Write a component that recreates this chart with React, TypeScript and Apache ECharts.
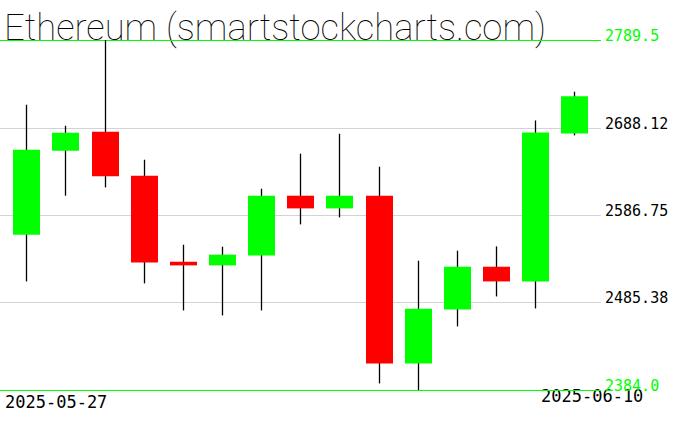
import React, { useEffect, useRef } from "react";
import * as echarts from "echarts";

const dates = [
  "2025-05-27", "2025-05-28", "2025-05-29", "2025-05-30", "2025-05-31",
  "2025-06-01", "2025-06-02", "2025-06-03", "2025-06-04", "2025-06-05",
  "2025-06-06", "2025-06-07", "2025-06-08", "2025-06-09", "2025-06-10",
];
const opens = [2563.9, 2661.2, 2683.3, 2632.3, 2532.6, 2528.4, 2539.9, 2609.1, 2594.4, 2609.1, 2414.8, 2477.4, 2526.8, 2509.8, 2681.3];
const highs = [2714.5, 2690.2, 2789.5, 2650.8, 2552.3, 2550.0, 2617.2, 2657.8, 2680.9, 2642.7, 2533.8, 2545.4, 2550.4, 2696.3, 2729.6];
const lows = [2509.8, 2609.1, 2618.7, 2507.5, 2476.2, 2470.4, 2476.2, 2575.9, 2584.0, 2391.6, 2384.0, 2457.7, 2492.4, 2478.5, 2679.0];
const closes = [2662.4, 2682.1, 2631.5, 2531.8, 2528.4, 2540.8, 2609.1, 2594.4, 2609.1, 2414.8, 2478.2, 2526.8, 2509.8, 2682.4, 2724.2];

const gridValues = [2384.0, 2485.38, 2586.75, 2688.12, 2789.5];
const gridLabels = ["2384.0", "2485.38", "2586.75", "2688.12", "2789.5"];

const TITLE = "Ethereum (smartstockcharts.com)";
const GREEN = "#00ff00";
const RED = "#ff0000";
const GRAY = "#d3d3d3";

export default function App() {
  const ref = useRef<HTMLDivElement>(null);
  useEffect(() => {
    document.body.style.margin = "0";
    if (!ref.current) return;
    const chart = echarts.init(ref.current, null, { renderer: "svg" });
    const candleData = dates.map((_, i) => [i, opens[i], closes[i], lows[i], highs[i]]);
    const gridData = gridValues.map((v, i) => [v, i]);
    const yMin = gridValues[0];
    const yMax = gridValues[gridValues.length - 1];
    chart.setOption({
      animation: false,
      grid: { left: 0, top: 40, width: 601, height: 350 },
      xAxis: { type: "value", min: -0.672, max: 14.683, show: false },
      yAxis: { type: "value", min: yMin, max: yMax, show: false },
      graphic: [
        {
          type: "text",
          left: 4,
          top: 9,
          style: {
            text: TITLE,
            font: '100 36.4px Roboto',
            fill: "#000",
          },
        },
        {
          type: "text",
          left: 5,
          top: 393,
          style: { text: dates[0], font: '17px "DejaVu Sans Mono"', fill: "#000" },
        },
        {
          type: "text",
          left: 541,
          top: 387,
          style: { text: dates[dates.length - 1], font: '17px "DejaVu Sans Mono"', fill: "#000" },
        },
      ],
      series: [
        {
          type: "custom",
          clip: false,
          silent: true,
          data: gridData,
          encode: { y: 0 },
          renderItem: (params: any, api: any) => {
            const v = api.value(0);
            const idx = api.value(1);
            const cs = params.coordSys;
            const y = Math.round(api.coord([0, v])[1]) + 0.5;
            const edge = idx === 0 || idx === gridValues.length - 1;
            return {
              type: "group",
              children: [
                {
                  type: "line",
                  shape: { x1: cs.x, y1: y, x2: cs.x + cs.width, y2: y },
                  style: { stroke: edge ? GREEN : GRAY, lineWidth: 1 },
                },
                {
                  type: "text",
                  x: cs.x + cs.width + 4,
                  y: y + 3,
                  style: {
                    text: gridLabels[idx],
                    font: '15px "DejaVu Sans Mono"',
                    fill: edge ? GREEN : "#000",
                    verticalAlign: "bottom",
                    align: "left",
                  },
                },
              ],
            };
          },
        },
        {
          type: "custom",
          clip: false,
          silent: true,
          data: candleData,
          encode: { x: 0, y: [1, 2, 3, 4] },
          renderItem: (params: any, api: any) => {
            const i = api.value(0);
            const o = api.value(1);
            const c = api.value(2);
            const l = api.value(3);
            const h = api.value(4);
            const hi = api.coord([i, h]);
            const lo = api.coord([i, l]);
            const top = api.coord([i, Math.max(o, c)]);
            const bot = api.coord([i, Math.min(o, c)]);
            const w = api.size([0.69, 0])[0];
            const x = Math.round(hi[0]) + 0.5;
            return {
              type: "group",
              children: [
                {
                  type: "line",
                  shape: { x1: x, y1: hi[1], x2: x, y2: lo[1] },
                  style: { stroke: "#000", lineWidth: 1.3 },
                },
                {
                  type: "rect",
                  shape: { x: x - w / 2, y: top[1], width: w, height: Math.max(1, bot[1] - top[1]) },
                  style: { fill: c >= o ? GREEN : RED },
                },
              ],
            };
          },
        },
      ],
    });
    return () => chart.dispose();
  }, []);
  return (
    <div
      ref={ref}
      style={{ position: "absolute", left: 0, top: 0, width: 676, height: 431, background: "#fff" }}
    />
  );
}
